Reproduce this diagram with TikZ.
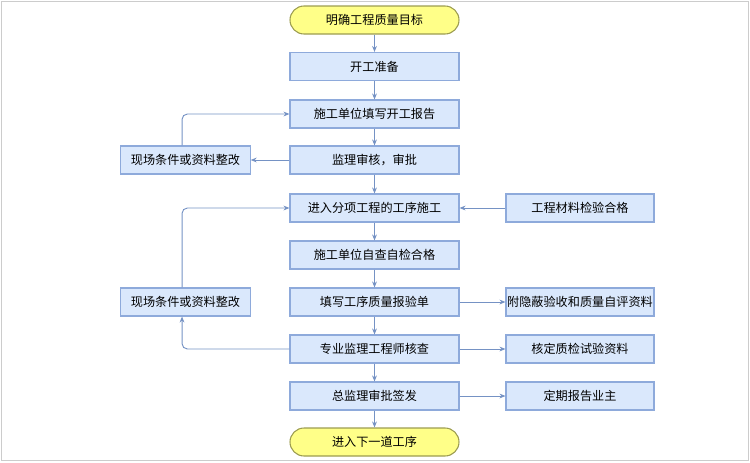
\documentclass[tikz,border=0pt]{standalone}
\usepackage{fontspec}
\setmainfont{Noto Sans CJK SC}
\usetikzlibrary{arrows.meta}
\definecolor{boxfill}{HTML}{DAE8FC}
\definecolor{boxline}{HTML}{8EAADB}
\definecolor{termfill}{HTML}{FFFF88}
\definecolor{termline}{HTML}{9C9C50}
\definecolor{arrowc}{HTML}{7592C4}
\tikzset{
  procbox/.style={draw=boxline, fill=boxfill, line width=0.8pt, minimum width=126.75pt, minimum height=21pt, inner sep=0pt, font=\fontsize{9.1}{11}\selectfont},
  sidebox/.style={procbox, minimum width=97pt},
  rightbox/.style={procbox, minimum width=111pt},
  termbox/.style={draw=termline, fill=termfill, line width=0.8pt, minimum width=126.75pt, minimum height=21pt, rounded corners=10.5pt, inner sep=0pt, font=\fontsize{9.1}{11}\selectfont},
  conn/.style={draw=arrowc, line width=0.7pt, -{Stealth[length=4.5pt,width=3.6pt]}},
  loopconn/.style={conn, rounded corners=4pt}
}
\begin{document}
\begin{tikzpicture}[x=0.75pt,y=-0.75pt]
\useasboundingbox (0,0) rectangle (750,462);
\draw[draw=black!20, line width=1pt] (1.5,1.5) rectangle (748.5,460.5);
% main column
\node[termbox] (t1) at (374.5,20) {明确工程质量目标};
\node[procbox] (m1) at (374.5,66.5) {开工准备};
\node[procbox] (m2) at (374.5,114) {施工单位填写开工报告};
\node[procbox] (m3) at (374.5,160) {监理审核，审批};
\node[procbox] (m4) at (374.5,208) {进入分项工程的工序施工};
\node[procbox] (m5) at (374.5,255) {施工单位自查自检合格};
\node[procbox] (m6) at (374.5,302) {填写工序质量报验单};
\node[procbox] (m7) at (374.5,349) {专业监理工程师核查};
\node[procbox] (m8) at (374.5,396) {总监理审批签发};
\node[termbox] (t2) at (374.5,442) {进入下一道工序};
% left
\node[sidebox] (l1) at (185.5,160) {现场条件或资料整改};
\node[sidebox] (l2) at (185.5,302) {现场条件或资料整改};
% right
\node[rightbox] (r1) at (580,208) {工程材料检验合格};
\node[rightbox] (r2) at (580,302) {附隐蔽验收和质量自评资料};
\node[rightbox] (r3) at (580,349) {核定质检试验资料};
\node[rightbox] (r4) at (580,396) {定期报告业主};
% vertical arrows
\draw[conn] (t1) -- (m1);
\draw[conn] (m1) -- (m2);
\draw[conn] (m2) -- (m3);
\draw[conn] (m3) -- (m4);
\draw[conn] (m4) -- (m5);
\draw[conn] (m5) -- (m6);
\draw[conn] (m6) -- (m7);
\draw[conn] (m7) -- (m8);
\draw[conn] (m8) -- (t2);
% left loops
\draw[conn] (m3) -- (l1);
\draw[loopconn] ([xshift=-2.6pt]l1.north) |- (m2.west);
\draw[loopconn] ([xshift=-2.6pt]l2.north) |- (m4.west);
\draw[loopconn] (m7.west) -| ([xshift=-2.6pt]l2.south);
% right arrows
\draw[conn] (r1) -- (m4);
\draw[conn] (m6) -- (r2);
\draw[conn] (m7) -- (r3);
\draw[conn] (m8) -- (r4);
\end{tikzpicture}
\end{document}
